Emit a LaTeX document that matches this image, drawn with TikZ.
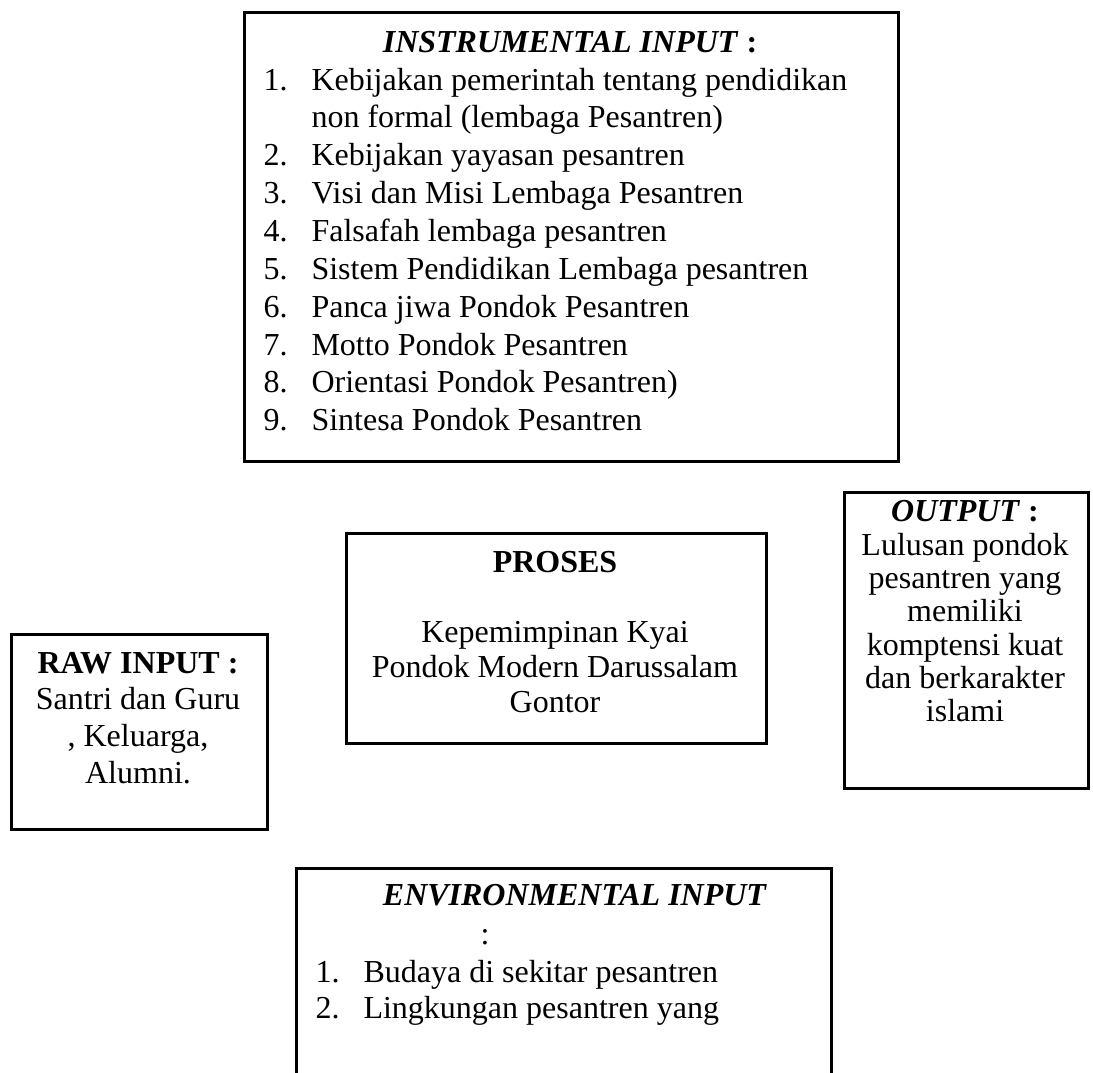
\documentclass[tikz,border=0pt]{standalone}
\usepackage{fontspec}
\setmainfont{Liberation Serif}
\newcommand{\pxu}{0.375pt}
\tikzset{
  kotak/.style={draw, line width=1.1pt, inner sep=0pt, anchor=north west},
  isi/.style={inner sep=0pt, anchor=base, font=\fontsize{12}{13.8}\selectfont},
}
\begin{document}
\begin{tikzpicture}[x=0.375pt, y=-0.375pt]
\useasboundingbox (0,0) rectangle (1093,1072);
\clip (0,0) rectangle (1093,1072);

% instrumental input
\node[kotak, minimum width=654*\pxu, minimum height=449*\pxu] (instr) at (243,11) {};
\node[isi] (instr_judul) at (570,52) {\textbf{\textit{INSTRUMENTAL INPUT}} \textbf{:}};
\node[isi, anchor=base west, font=\fontsize{12}{14.2}\selectfont] (instr_isi) at (263,90) {\begin{tabular}[t]{@{}p{18pt}@{}l@{}}
1. & Kebijakan pemerintah tentang pendidikan\\
   & non formal (lembaga Pesantren)\\
2. & Kebijakan yayasan pesantren\\
3. & Visi dan Misi Lembaga Pesantren\\
4. & Falsafah lembaga pesantren\\
5. & Sistem Pendidikan Lembaga pesantren\\
6. & Panca jiwa Pondok Pesantren\\
7. & Motto Pondok Pesantren\\
8. & Orientasi Pondok Pesantren)\\
9. & Sintesa Pondok Pesantren
\end{tabular}};

% proses
\node[kotak, minimum width=420*\pxu, minimum height=210*\pxu] (proses) at (345,532) {};
\node[isi, font=\fontsize{12}{13.2}\selectfont] (proses_isi) at (555,572) {\begin{tabular}[t]{@{}c@{}}
\textbf{PROSES}\\
\\
Kepemimpinan Kyai\\
Pondok Modern Darussalam\\
Gontor
\end{tabular}};

% raw input
\node[kotak, minimum width=256*\pxu, minimum height=195*\pxu] (raw) at (10,633) {};
\node[isi] (raw_isi) at (138,673) {\begin{tabular}[t]{@{}c@{}}
\textbf{RAW INPUT :}\\
Santri dan Guru\\
, Keluarga,\\
Alumni.
\end{tabular}};

% output
\node[kotak, minimum width=244*\pxu, minimum height=296*\pxu] (output) at (843,491) {};
\node[isi] (output_judul) at (965,521) {\textbf{\textit{OUTPUT}} \textbf{:}};
\node[isi, font=\fontsize{12}{12.5}\selectfont] (output_isi) at (965,555) {\begin{tabular}[t]{@{}c@{}}
Lulusan pondok\\
pesantren yang\\
memiliki\\
komptensi kuat\\
dan berkarakter\\
islami
\end{tabular}};

% environmental input
\node[kotak, minimum width=535*\pxu, minimum height=300*\pxu] (env) at (295,867) {};
\node[isi] (env_judul) at (575,905) {\textbf{\textit{ENVIRONMENTAL INPUT}}};
\node[isi] (env_titik) at (485,944) {:};
\node[isi, anchor=base west] (env_isi) at (315,982) {\begin{tabular}[t]{@{}p{18pt}@{}l@{}}
1. & Budaya di sekitar pesantren\\
2. & Lingkungan pesantren yang
\end{tabular}};

\end{tikzpicture}
\end{document}
